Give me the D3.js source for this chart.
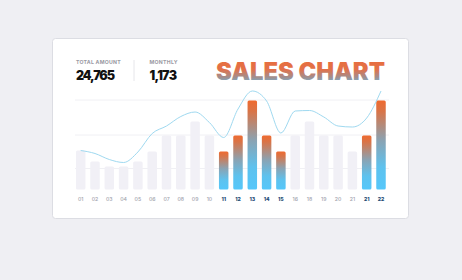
<!DOCTYPE html>
<html><head><meta charset="utf-8">
<script src="https://cdn.jsdelivr.net/npm/d3@7"></script>
<style>
html,body{margin:0;padding:0;background:#efeff3;}
svg{display:block;}
</style></head>
<body>
<svg id="c" width="462" height="280"></svg>
<script>
const labels = ["01","02","03","04","05","06","07","08","09","10","11","12","13","14","15","16","18","19","20","21","21","22"];
const barValues = [39,28,23,23,28,38,54,54,68,54,38,54,89,54,38,54,68,54,54,38,54,89];
const lineValues = [39,36,30,27,37.5,56,63.5,73,77.5,67,52,80.5,98.5,88.5,56.5,78.5,79,72.5,63.5,62.5,71.5,98.5];
const highlighted = [false,false,false,false,false,false,false,false,false,false,true,true,true,true,true,false,false,false,false,false,true,true];
const gridValues = [21,54.5,89.5];
const totalLabel = "TOTAL AMOUNT", totalValue = "24,765";
const monthlyLabel = "MONTHLY", monthlyValue = "1,173";
const title = "SALES CHART";

const svg = d3.select("#c");
const defs = svg.append("defs");
const g1 = defs.append("linearGradient").attr("id","barGrad").attr("x1",0).attr("y1",0).attr("x2",0).attr("y2",1);
[[0,"#ef6a2f"],[0.12,"#d97447"],[0.45,"#8aa3b3"],[0.75,"#5ec2ee"],[1,"#55c7fa"]].forEach(s=>g1.append("stop").attr("offset",s[0]).attr("stop-color",s[1]));
const g2 = defs.append("linearGradient").attr("id","titleGrad").attr("x1",0).attr("y1",0).attr("x2",0).attr("y2",1);
[[0,"#ea6c38"],[0.45,"#e2714a"],[0.72,"#a08f90"],[1,"#5ec5f2"]].forEach(s=>g2.append("stop").attr("offset",s[0]).attr("stop-color",s[1]));

// card
svg.append("rect").attr("x",52.5).attr("y",38.5).attr("width",356).attr("height",180)
  .attr("rx",3).attr("fill","#ffffff").attr("stroke","#dcdde3").attr("stroke-width",1);

const x = d3.scaleBand().domain(d3.range(labels.length)).range([73.55,388.15])
  .paddingInner(0.336).paddingOuter(0.168);
const y = d3.scaleLinear().domain([0,100]).range([189.5,89.5]);

// grid
svg.append("g").selectAll("line").data(gridValues).join("line")
  .attr("x1",75).attr("x2",389).attr("y1",d=>y(d)).attr("y2",d=>y(d))
  .attr("stroke","#f0f0f4").attr("stroke-width",1);

// bars
svg.append("g").selectAll("rect").data(barValues).join("rect")
  .attr("x",(d,i)=>x(i)).attr("width",x.bandwidth())
  .attr("y",d=>y(d)).attr("height",d=>y(0)-y(d))
  .attr("rx",1.5)
  .attr("fill",(d,i)=>highlighted[i]?"url(#barGrad)":"#f1f0f6");

// line
const line = d3.line().x((d,i)=>x(i)+x.bandwidth()/2).y(d=>y(d)).curve(d3.curveMonotoneX);
svg.append("path").datum(lineValues).attr("d",line)
  .attr("fill","none").attr("stroke","#9fd9f0").attr("stroke-width",1);

// x labels
svg.append("g").selectAll("text").data(labels).join("text")
  .attr("x",(d,i)=>x(i)+x.bandwidth()/2).attr("y",201)
  .attr("text-anchor","middle")
  .attr("font-family","Inter, Roboto, sans-serif")
  .attr("font-size",5.2)
  .attr("font-weight",(d,i)=>highlighted[i]?800:500)
  .attr("fill",(d,i)=>highlighted[i]?"#1f4d75":"#a2a3ad")
  .text(d=>d);

// header
const hf = "Inter, Roboto, sans-serif";
svg.append("text").attr("x",76).attr("y",64.3).attr("font-family",hf).attr("font-size",5.2).attr("font-weight",700)
  .attr("fill","#9a9aa3").attr("textLength",44.7).text(totalLabel);
svg.append("text").attr("x",76).attr("y",80).attr("font-family",hf).attr("font-size",12.5).attr("font-weight",900)
  .attr("fill","#111").attr("textLength",39).text(totalValue);
svg.append("line").attr("x1",134).attr("x2",134).attr("y1",60).attr("y2",81).attr("stroke","#e6e6ea");
svg.append("text").attr("x",149.5).attr("y",64.3).attr("font-family",hf).attr("font-size",5.2).attr("font-weight",700)
  .attr("fill","#9a9aa3").attr("textLength",28).text(monthlyLabel);
svg.append("text").attr("x",149.5).attr("y",80).attr("font-family",hf).attr("font-size",12.5).attr("font-weight",900)
  .attr("fill","#111").attr("textLength",27.5).text(monthlyValue);

svg.append("text").attr("x",216).attr("y",79.5).attr("font-family",hf).attr("font-size",24).attr("font-weight",900)
  .attr("fill","url(#titleGrad)").attr("textLength",169).attr("lengthAdjust","spacingAndGlyphs").text(title);
</script>
</body></html>
